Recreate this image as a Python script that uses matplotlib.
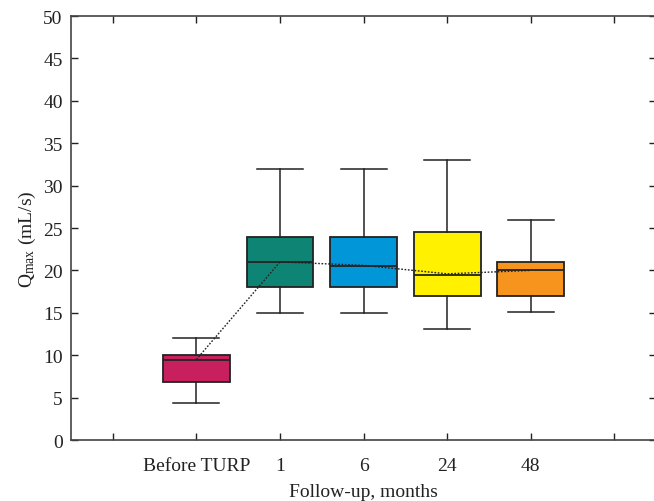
import matplotlib
matplotlib.use("Agg")
import matplotlib.pyplot as plt

plt.rcParams['font.family'] = ['Liberation Serif', 'DejaVu Serif']
plt.rcParams['mathtext.fontset'] = 'custom'
plt.rcParams['mathtext.rm'] = 'Liberation Serif'
plt.rcParams['mathtext.it'] = 'Liberation Serif:italic'

categories = ["Before TURP", "1", "6", "24", "48"]
q1 = [6.8, 18.0, 18.0, 17.0, 17.0]
median = [9.4, 21.0, 20.5, 19.5, 20.0]
q3 = [10.0, 24.0, 24.0, 24.5, 21.0]
whisker_low = [4.4, 15.0, 15.0, 13.1, 15.1]
whisker_high = [12.0, 32.0, 32.0, 33.0, 26.0]
trend = [9.5, 21.0, 20.6, 19.6, 20.0]
colors = ["#C8205F", "#0E8574", "#0096D8", "#FFF100", "#F7941E"]

positions = [1, 2, 3, 4, 5]

fig = plt.figure(figsize=(6.54, 5.02), dpi=100)
ax = fig.add_axes([0.1086, 0.1215, 0.8945, 0.8445])

stats = []
for i in range(len(categories)):
    stats.append(dict(med=median[i], q1=q1[i], q3=q3[i],
                      whislo=whisker_low[i], whishi=whisker_high[i],
                      fliers=[], label=categories[i]))

bp = ax.bxp(stats, positions=positions, widths=0.8, capwidths=0.55,
            patch_artist=True, showfliers=False,
            boxprops=dict(edgecolor='#222222', linewidth=1.3),
            medianprops=dict(color='#222222', linewidth=1.3),
            whiskerprops=dict(color='#222222', linewidth=1.1),
            capprops=dict(color='#222222', linewidth=1.1))
for patch, c in zip(bp['boxes'], colors):
    patch.set_facecolor(c)

ax.plot(positions, trend, linestyle=(0, (1.2, 1.2)), color='#222222', linewidth=1.0, zorder=5)

ax.set_xlim(-0.5, 6.5)
ax.set_ylim(0, 50)
ax.set_xticks([0, 1, 2, 3, 4, 5, 6])
ax.set_xticklabels([""] + categories + [""])
ax.set_yticks(range(0, 51, 5))
ax.tick_params(direction='in', length=5, width=1, top=True, right=True,
               labelsize=14, colors='#222222', pad=6)
ax.tick_params(axis='x', pad=12)
for s in ax.spines.values():
    s.set_color('#444444')
    s.set_linewidth(1.2)

ax.set_ylabel(r"Q$_{\mathrm{max}}$ (mL/s)", fontsize=14, color='#222222')
ax.yaxis.set_label_coords(-0.056, 0.475)
ax.set_xlabel("Follow-up, months", fontsize=14, color='#222222', labelpad=7)

fig.savefig("out.png", dpi=100)
